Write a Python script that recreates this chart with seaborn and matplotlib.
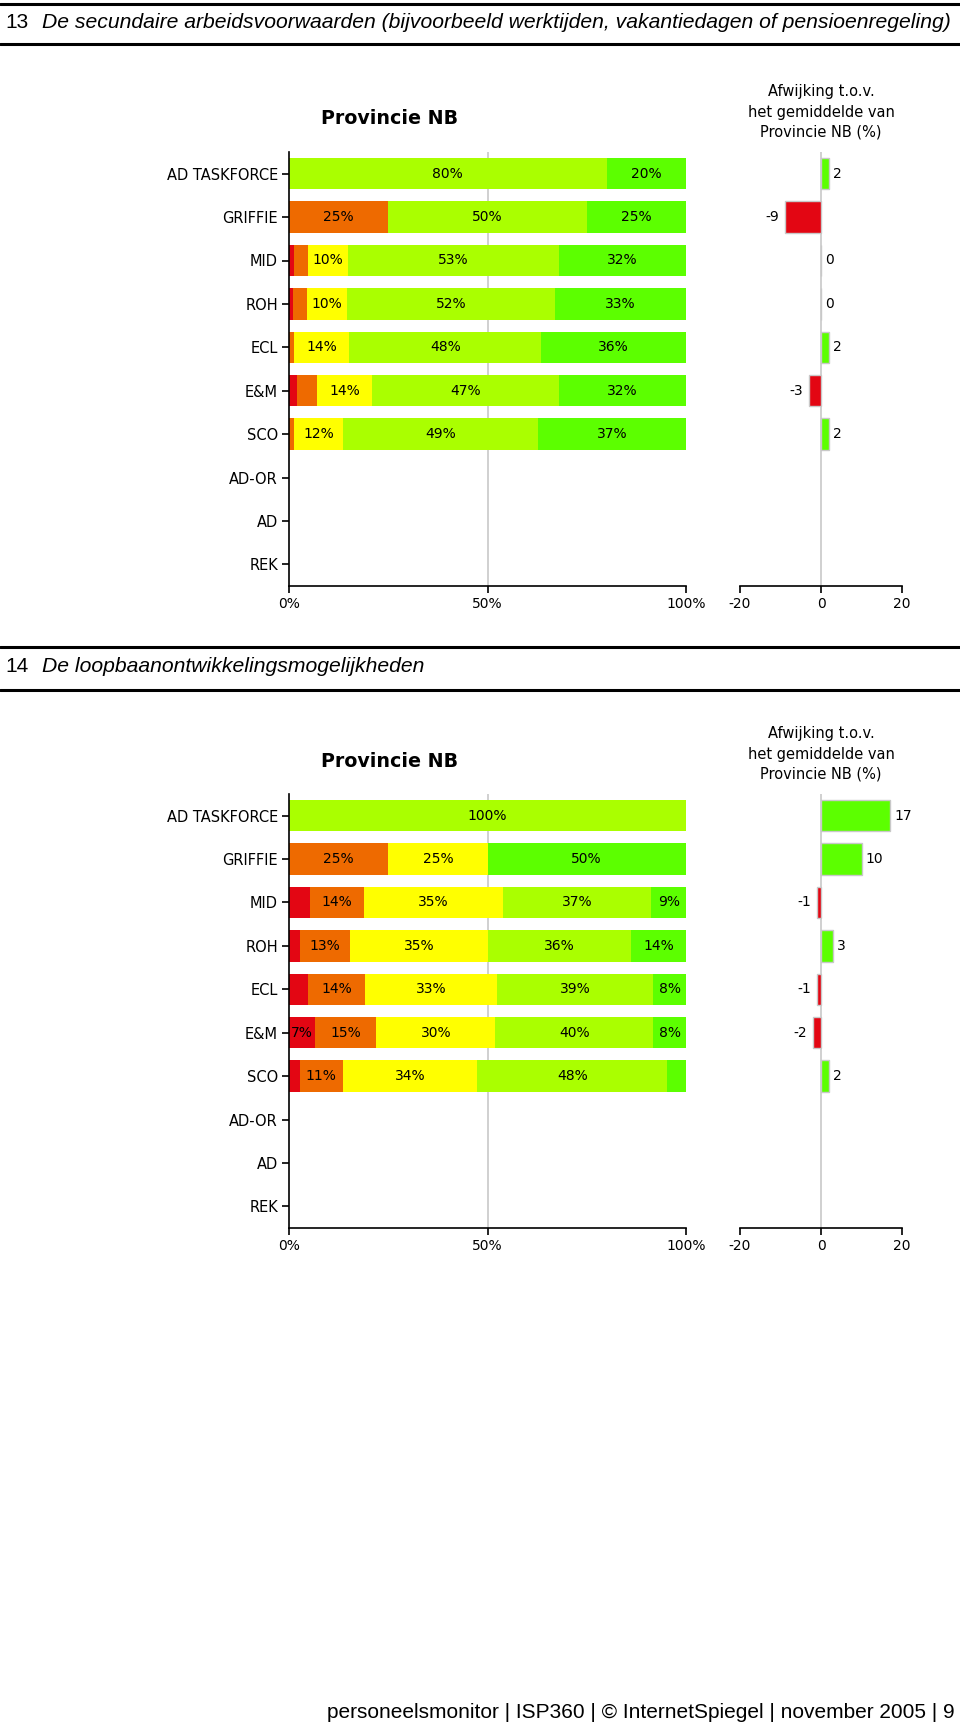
import numpy as np
import matplotlib
matplotlib.use("Agg")
import matplotlib.pyplot as plt
import seaborn as sns

nan = np.nan

categories = ["AD TASKFORCE", "GRIFFIE", "MID", "ROH", "ECL", "E&M", "SCO", "AD-OR", "AD", "REK"]
level_colors = ["#e30613", "#ee6a00", "#ffff00", "#aaff00", "#5cff00"]

# vraag 13: secundaire arbeidsvoorwaarden (% per antwoordcategorie)
red13 = [0, 0, 1.2, 1.0, 0, 1.9, 0, nan, nan, nan]
orange13 = [0, 25, 3.5, 3.5, 1.2, 5.1, 1.2, nan, nan, nan]
yellow13 = [0, 0, 10.1, 10.2, 14.0, 13.9, 12.4, nan, nan, nan]
lightgreen13 = [80, 50, 53.2, 52.3, 48.4, 47.1, 49.1, nan, nan, nan]
green13 = [20, 25, 32.0, 33.0, 36.4, 32.0, 37.3, nan, nan, nan]
dev13 = [2, -9, 0, 0, 2, -3, 2, nan, nan, nan]

# vraag 14: loopbaanontwikkelingsmogelijkheden
red14 = [0, 0, 5.2, 2.7, 4.8, 6.6, 2.7, nan, nan, nan]
orange14 = [0, 25, 13.6, 12.7, 14.3, 15.4, 10.9, nan, nan, nan]
yellow14 = [0, 25, 35.2, 34.8, 33.4, 30.0, 33.8, nan, nan, nan]
lightgreen14 = [100, 0, 37.3, 36.0, 39.2, 39.8, 47.9, nan, nan, nan]
green14 = [0, 50, 8.7, 13.8, 8.3, 8.2, 4.7, nan, nan, nan]
dev14 = [17, 10, -1, 3, -1, -2, 2, nan, nan, nan]

W, H = 960, 1728
FONT = "DejaVu Sans"

sns.set_style("white")
plt.rcParams["font.family"] = [FONT]
plt.rcParams["text.color"] = "black"
plt.rcParams["xtick.color"] = "black"
plt.rcParams["ytick.color"] = "black"
plt.rcParams["axes.labelcolor"] = "black"

fig = plt.figure(figsize=(W / 100, H / 100), dpi=100)


def fx(px):
    return px / W


def fy(py):
    return 1 - py / H


def rule(py):
    fig.add_artist(plt.Line2D([0, 1], [fy(py), fy(py)], transform=fig.transFigure,
                              color="black", lw=2.2))


def header(py_top, py_text, py_bottom, num, title):
    rule(py_top)
    rule(py_bottom)
    fig.text(fx(5), fy(py_text), num, fontsize=15, family="Liberation Sans", va="center")
    fig.text(fx(42), fy(py_text), title, fontsize=15.2, family="Liberation Sans",
             style="italic", va="center")


def stacked_panel(top, levels, dev):
    ax = fig.add_axes([fx(289), fy(top + 434), fx(686 - 289), 434 / H])
    ax.axvline(50, color="#c8c8c8", lw=1.2, zorder=0)

    data = np.array(levels, dtype=float)
    cum = np.cumsum(data, axis=0)
    # draw the cumulative totals from longest to shortest so the segments stack up
    for i in range(len(levels) - 1, -1, -1):
        sns.barplot(x=cum[i], y=categories, order=categories, color=level_colors[i],
                    orient="h", width=0.72, errorbar=None, linewidth=0,
                    saturation=1, ax=ax, zorder=2)
    for i, vals in enumerate(data):
        for j, v in enumerate(vals):
            if np.isnan(v) or v < 6:
                continue
            ax.text(cum[i][j] - v / 2, j, f"{round(v)}%", ha="center", va="center",
                    fontsize=10, zorder=5)

    ax.set_xlim(0, 100)
    ax.set_ylim(9.5, -0.5)
    ax.set_xticks([0, 50, 100])
    ax.set_xticklabels(["0%", "50%", "100%"])
    ax.set_xlabel("")
    ax.set_ylabel("")
    for s in ["top", "right"]:
        ax.spines[s].set_visible(False)
    for s in ["left", "bottom"]:
        ax.spines[s].set_color("black")
        ax.spines[s].set_linewidth(1.2)
    ax.tick_params(axis="both", length=5, width=1.2, direction="out", labelsize=10,
                   bottom=True, left=True, pad=3)
    ax.tick_params(axis="y", labelsize=10.5)
    ax.grid(False)

    fig.text(fx(390), fy(top - 33), "Provincie NB", fontsize=13.7, weight="bold",
             ha="center", va="center")

    # afwijking t.o.v. gemiddelde
    ax2 = fig.add_axes([fx(740), fy(top + 434), fx(902 - 740), 434 / H])
    ax2.axvline(0, color="#c8c8c8", lw=1.2, zorder=0)
    pal = {c: ("#e30613" if (not np.isnan(d) and d < 0) else "#5cff00")
           for c, d in zip(categories, dev)}
    sns.barplot(x=dev, y=categories, order=categories, hue=categories, palette=pal,
                legend=False, orient="h", width=0.72, errorbar=None, saturation=1,
                edgecolor="#c8c8c8", linewidth=1, ax=ax2, zorder=2)
    for j, d in enumerate(dev):
        if np.isnan(d):
            continue
        if d < 0:
            ax2.annotate(f"{d:g}", (d, j), xytext=(-4, 0), textcoords="offset points",
                         ha="right", va="center", fontsize=10)
        else:
            ax2.annotate(f"{d:g}", (d, j), xytext=(3, 0), textcoords="offset points",
                         ha="left", va="center", fontsize=10)
    ax2.set_xlim(-20, 20)
    ax2.set_ylim(9.5, -0.5)
    ax2.set_xticks([-20, 0, 20])
    ax2.set_xticklabels(["-20", "0", "20"])
    ax2.set_yticks([])
    ax2.set_xlabel("")
    ax2.set_ylabel("")
    for s in ["top", "right", "left"]:
        ax2.spines[s].set_visible(False)
    ax2.spines["bottom"].set_color("black")
    ax2.spines["bottom"].set_linewidth(1.2)
    ax2.tick_params(axis="x", length=5, width=1.2, direction="out", labelsize=10,
                    bottom=True, pad=3)
    ax2.grid(False)

    fig.text(fx(821), fy(top - 40), "Afwijking t.o.v.\nhet gemiddelde van\nProvincie NB (%)",
             fontsize=10.5, ha="center", va="center", linespacing=1.45)


header(4, 23, 44, "13",
       "De secundaire arbeidsvoorwaarden (bijvoorbeeld werktijden, vakantiedagen of pensioenregeling)")
stacked_panel(152, [red13, orange13, yellow13, lightgreen13, green13], dev13)

header(647, 667, 690, "14", "De loopbaanontwikkelingsmogelijkheden")
stacked_panel(794, [red14, orange14, yellow14, lightgreen14, green14], dev14)

fig.text(fx(955), fy(1712), "personeelsmonitor | ISP360 | © InternetSpiegel | november 2005 | 9",
         fontsize=15, family="Liberation Sans", ha="right", va="center")

fig.savefig("out.png", dpi=100)
